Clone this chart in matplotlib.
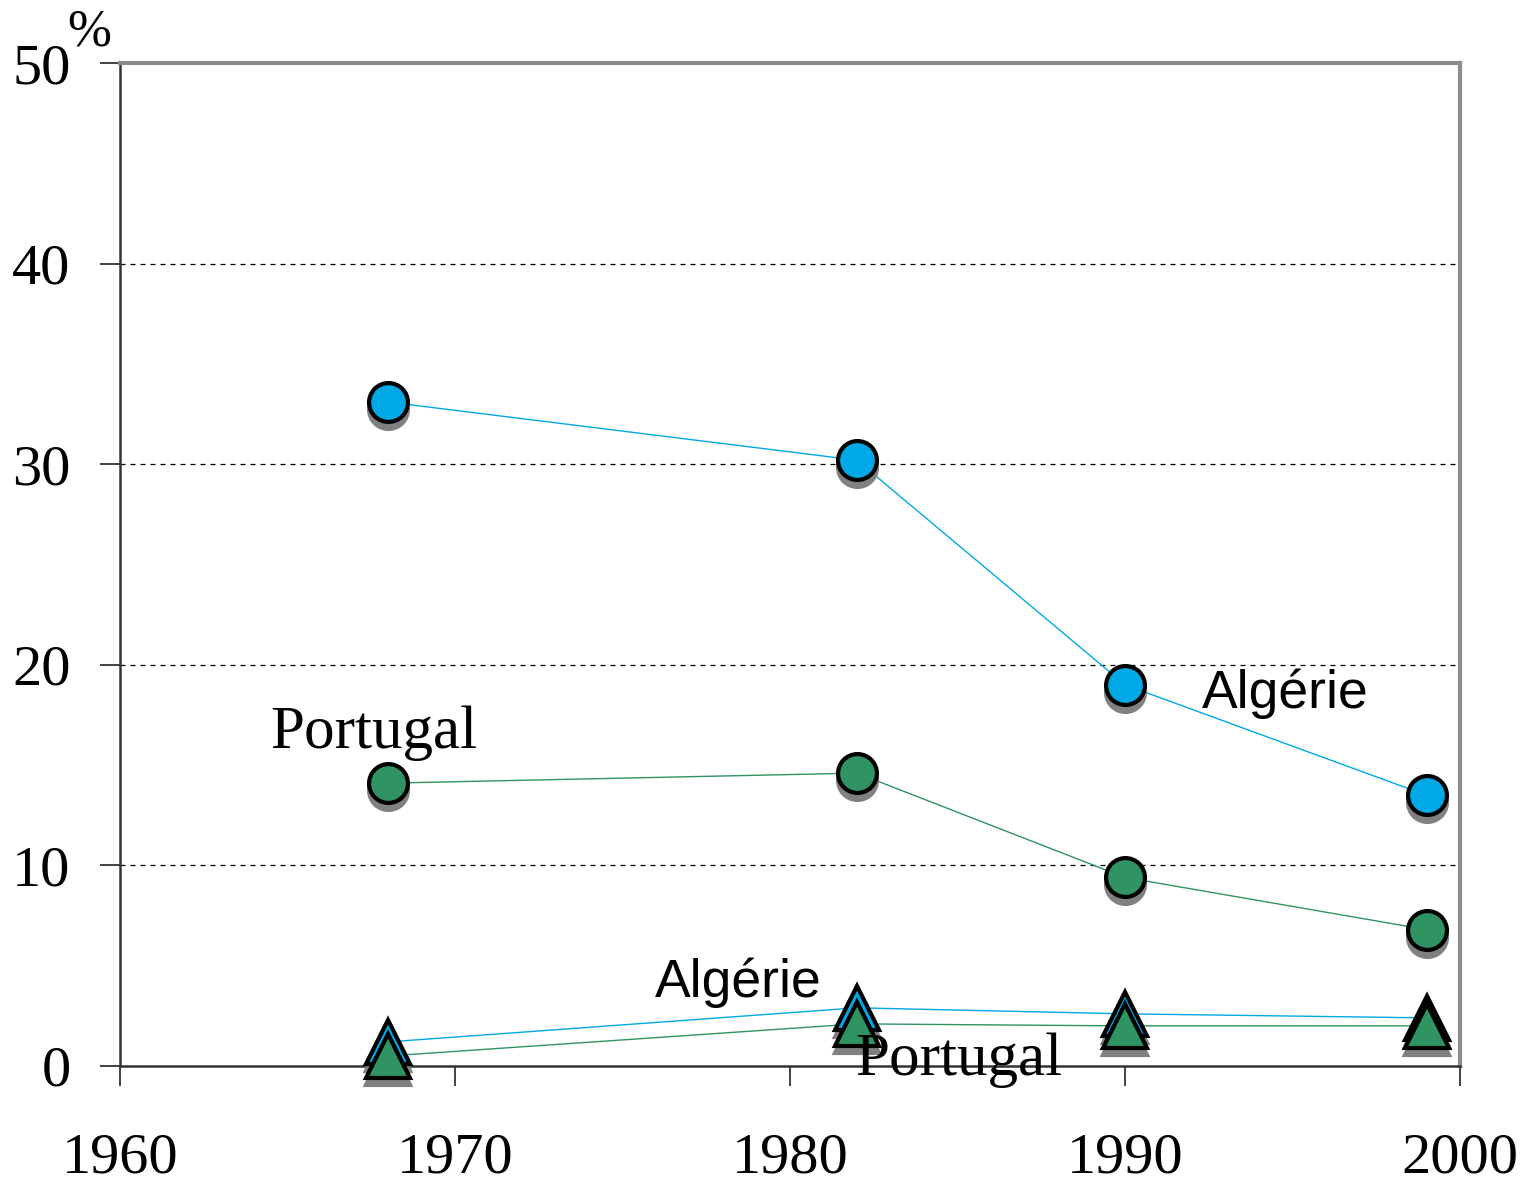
import matplotlib.pyplot as plt
import matplotlib.transforms as mtransforms

years = [1968, 1982, 1990, 1999]
algerie_circ = [33.1, 30.2, 19.0, 13.5]
portugal_circ = [14.1, 14.6, 9.4, 6.8]
algerie_tri = [1.2, 2.9, 2.6, 2.4]
portugal_tri = [0.5, 2.1, 2.0, 2.0]

blue = '#00A9E6'
green = '#2F9462'

fig = plt.figure(figsize=(15.26, 11.83), dpi=100)
ax = fig.add_axes([120 / 1526, 117 / 1183, 1340 / 1526, 1003 / 1183])

shadow = mtransforms.offset_copy(ax.transData, fig=fig, x=0, y=-7, units='dots')

series = [
    (algerie_circ, blue, 'o', 28),
    (portugal_circ, green, 'o', 28),
    (algerie_tri, blue, '^', 31),
    (portugal_tri, green, '^', 31),
]
# lignes
for vals, col, mk, ms in series:
    ax.plot(years, vals, color=col, lw=1, zorder=3)
# ombres puis marqueurs
for vals, col, mk, ms in series:
    ax.plot(years, vals, ls='none', marker=mk, ms=ms, color='#808080',
            mec='#808080', mew=3, transform=shadow, zorder=4, clip_on=False)
for vals, col, mk, ms in series:
    ax.plot(years, vals, ls='none', marker=mk, ms=ms, color=col,
            mec='black', mew=3, zorder=5, clip_on=False)

ax.set_xlim(1960, 2000)
ax.set_ylim(0, 50)
ax.set_xticks([1960, 1970, 1980, 1990, 2000])
ax.set_yticks([0, 10, 20, 30, 40, 50])
for y in [10, 20, 30, 40]:
    ax.axhline(y, color='black', lw=0.9, ls=(0, (4, 4)), zorder=1)

serif = ['Liberation Serif', 'DejaVu Serif']
sans = ['Liberation Sans', 'DejaVu Sans']
for lab in ax.get_xticklabels() + ax.get_yticklabels():
    lab.set_family(serif)
    lab.set_fontsize(42)
ax.tick_params(axis='both', direction='out', length=14.5, width=1.3, color='#333333')
ax.tick_params(axis='x', pad=33.5)
ax.tick_params(axis='y', pad=21)

ax.spines['left'].set_color('#333333')
ax.spines['bottom'].set_color('#333333')
ax.spines['left'].set_linewidth(1.8)
ax.spines['bottom'].set_linewidth(1.8)
ax.spines['top'].set_color('#8c8c8c')
ax.spines['right'].set_color('#8c8c8c')
ax.spines['top'].set_linewidth(3)
ax.spines['right'].set_linewidth(3)

ax.text(1980.95, 3.45, 'Algérie', family=sans, fontsize=38.5, ha='right', va='baseline')
ax.text(1992.3, 17.85, 'Algérie', family=sans, fontsize=38.5, ha='left', va='baseline')
ax.text(1964.5, 15.85, 'Portugal', family=serif, fontsize=44, ha='left', va='baseline')
ax.text(1981.95, -0.45, 'Portugal', family=serif, fontsize=44, ha='left', va='baseline')

fig.text(67 / 1526, 1 - 46 / 1183, '%', family=serif, fontsize=38, ha='left', va='baseline')

for t in ax.texts:
    t.set_clip_on(False)
    t.set_zorder(6)

plt.savefig('out.png', dpi=100)
